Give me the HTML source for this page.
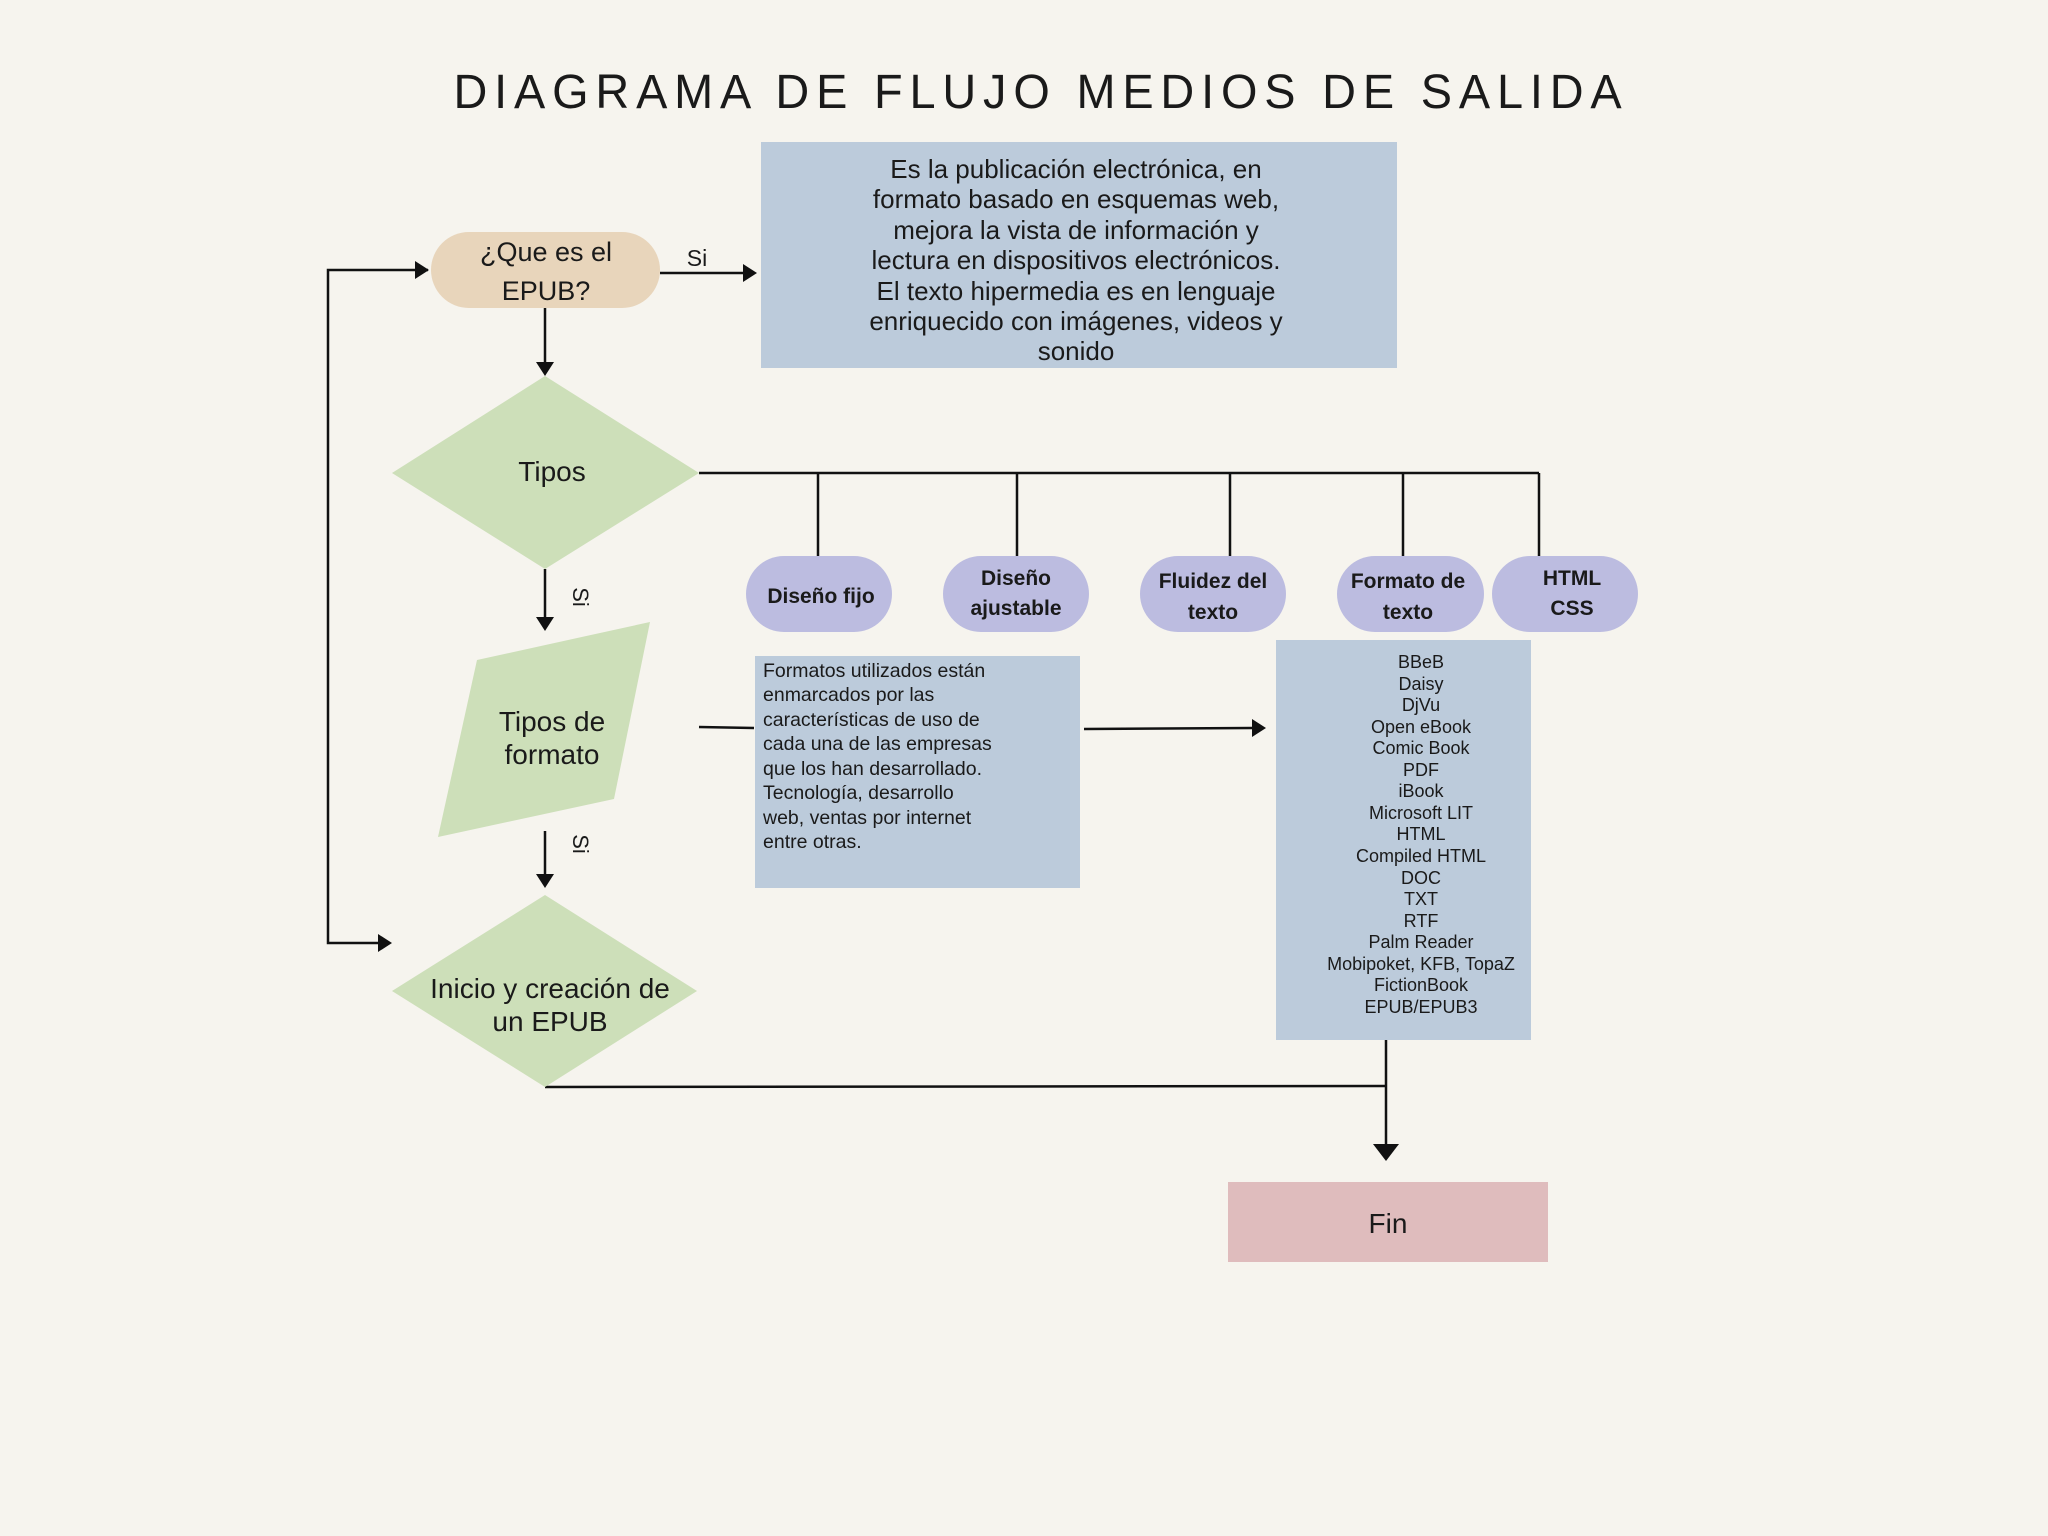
<!DOCTYPE html>
<html><head><meta charset="utf-8"><style>
html,body{margin:0;padding:0;background:#f6f4ee}
svg{display:block}
text{font-family:"Liberation Sans",sans-serif;fill:#1a1a1a}
</style></head><body>
<svg width="2048" height="1536" viewBox="0 0 2048 1536" xmlns="http://www.w3.org/2000/svg">
<defs>
<marker id="ah" viewBox="0 0 10 10" refX="10" refY="5" markerWidth="7" markerHeight="7" markerUnits="userSpaceOnUse" orient="auto">
</marker>
</defs>
<rect width="2048" height="1536" fill="#f6f4ee"/>
<text x="1041" y="108" font-size="48" text-anchor="middle" letter-spacing="7" textLength="1175" lengthAdjust="spacingAndGlyphs">DIAGRAMA DE FLUJO MEDIOS DE SALIDA</text>

<!-- EPUB pill -->
<rect x="431" y="232" width="229" height="76" rx="38" fill="#e8d5bb"/>
<text x="546" y="261" font-size="27" text-anchor="middle">¿Que es el</text>
<text x="546" y="300" font-size="27" text-anchor="middle">EPUB?</text>

<!-- Blue box 1 -->
<rect x="761" y="142" width="636" height="226" fill="#bccbdb"/>
<g font-size="26" text-anchor="middle">
<text x="1076" y="178">Es la publicación electrónica, en</text>
<text x="1076" y="208">formato basado en esquemas web,</text>
<text x="1076" y="239">mejora la vista de información y</text>
<text x="1076" y="269">lectura en dispositivos electrónicos.</text>
<text x="1076" y="300">El texto hipermedia es en lenguaje</text>
<text x="1076" y="330">enriquecido con imágenes, videos y</text>
<text x="1076" y="360">sonido</text>
</g>

<!-- connectors -->
<g stroke="#111" stroke-width="2.5" fill="none">
<line x1="660" y1="273" x2="744" y2="273"/>
<polyline points="428,270 328,270 328,943 380,943"/>
<line x1="545" y1="308" x2="545" y2="364"/>
<line x1="699" y1="473" x2="1539" y2="473"/>
<line x1="818" y1="473" x2="818" y2="556"/>
<line x1="1017" y1="473" x2="1017" y2="556"/>
<line x1="1230" y1="473" x2="1230" y2="556"/>
<line x1="1403" y1="473" x2="1403" y2="556"/>
<line x1="1539" y1="473" x2="1539" y2="556"/>
<line x1="545" y1="569" x2="545" y2="620"/>
<line x1="699" y1="727" x2="754" y2="728"/>
<line x1="1084" y1="729" x2="1252" y2="728"/>
<line x1="545" y1="831" x2="545" y2="876"/>
<line x1="545" y1="1087" x2="1386" y2="1086"/>
<line x1="1386" y1="1040" x2="1386" y2="1146"/>
</g>
<g fill="#111">
<polygon points="757,273 743,264 743,282"/>
<polygon points="429,270 415,261 415,279"/>
<polygon points="392,943 378,934 378,952"/>
<polygon points="545,376 536,362 554,362"/>
<polygon points="545,631 536,617 554,617"/>
<polygon points="1266,728 1252,719 1252,737"/>
<polygon points="545,888 536,874 554,874"/>
<polygon points="1386,1161 1373,1144 1399,1144"/>
</g>
<text x="697" y="266" font-size="23" text-anchor="middle">Si</text>
<text transform="translate(573,597) rotate(90)" font-size="22" text-anchor="middle">Si</text>
<text transform="translate(573,844) rotate(90)" font-size="22" text-anchor="middle">Si</text>

<!-- Tipos diamond -->
<polygon points="545,376 699,473 545,569 392,473" fill="#cddfb9"/>
<text x="552" y="481" font-size="28" text-anchor="middle">Tipos</text>

<!-- pills -->
<g fill="#bcbce0">
<rect x="746" y="556" width="146" height="76" rx="38"/>
<rect x="943" y="556" width="146" height="76" rx="38"/>
<rect x="1140" y="556" width="146" height="76" rx="38"/>
<rect x="1337" y="556" width="147" height="76" rx="38"/>
<rect x="1492" y="556" width="146" height="76" rx="38"/>
</g>
<g font-size="21" font-weight="bold" text-anchor="middle">
<text x="821" y="603">Diseño fijo</text>
<text x="1016" y="585">Diseño</text>
<text x="1016" y="615">ajustable</text>
<text x="1213" y="588">Fluidez del</text>
<text x="1213" y="619">texto</text>
<text x="1408" y="588">Formato de</text>
<text x="1408" y="619">texto</text>
<text x="1572" y="585">HTML</text>
<text x="1572" y="615">CSS</text>
</g>

<!-- parallelogram -->
<polygon points="477,660 650,622 614,799 438,837" fill="#cddfb9"/>
<text x="552" y="731" font-size="28" text-anchor="middle">Tipos de</text>
<text x="552" y="764" font-size="28" text-anchor="middle">formato</text>

<!-- blue box 2 -->
<rect x="755" y="656" width="325" height="232" fill="#bccbdb"/>
<g font-size="19.5">
<text x="763" y="677">Formatos utilizados están</text>
<text x="763" y="701">enmarcados por las</text>
<text x="763" y="726">características de uso de</text>
<text x="763" y="750">cada una de las empresas</text>
<text x="763" y="775">que los han desarrollado.</text>
<text x="763" y="799">Tecnología, desarrollo</text>
<text x="763" y="824">web, ventas por internet</text>
<text x="763" y="848">entre otras.</text>
</g>

<!-- blue box 3 -->
<rect x="1276" y="640" width="255" height="400" fill="#bccbdb"/>
<g font-size="18" text-anchor="middle">
<text x="1421" y="668">BBeB</text>
<text x="1421" y="690">Daisy</text>
<text x="1421" y="711">DjVu</text>
<text x="1421" y="733">Open eBook</text>
<text x="1421" y="754">Comic Book</text>
<text x="1421" y="776">PDF</text>
<text x="1421" y="797">iBook</text>
<text x="1421" y="819">Microsoft LIT</text>
<text x="1421" y="840">HTML</text>
<text x="1421" y="862">Compiled HTML</text>
<text x="1421" y="884">DOC</text>
<text x="1421" y="905">TXT</text>
<text x="1421" y="927">RTF</text>
<text x="1421" y="948">Palm Reader</text>
<text x="1421" y="970">Mobipoket, KFB, TopaZ</text>
<text x="1421" y="991">FictionBook</text>
<text x="1421" y="1013">EPUB/EPUB3</text>
</g>

<!-- diamond 2 -->
<polygon points="545,895 697,991 545,1087 392,991" fill="#cddfb9"/>
<text x="550" y="998" font-size="28" text-anchor="middle">Inicio y creación de</text>
<text x="550" y="1031" font-size="28" text-anchor="middle">un EPUB</text>

<!-- Fin -->
<rect x="1228" y="1182" width="320" height="80" fill="#dfbcbd"/>
<text x="1388" y="1233" font-size="28" text-anchor="middle">Fin</text>
</svg>
</body></html>
